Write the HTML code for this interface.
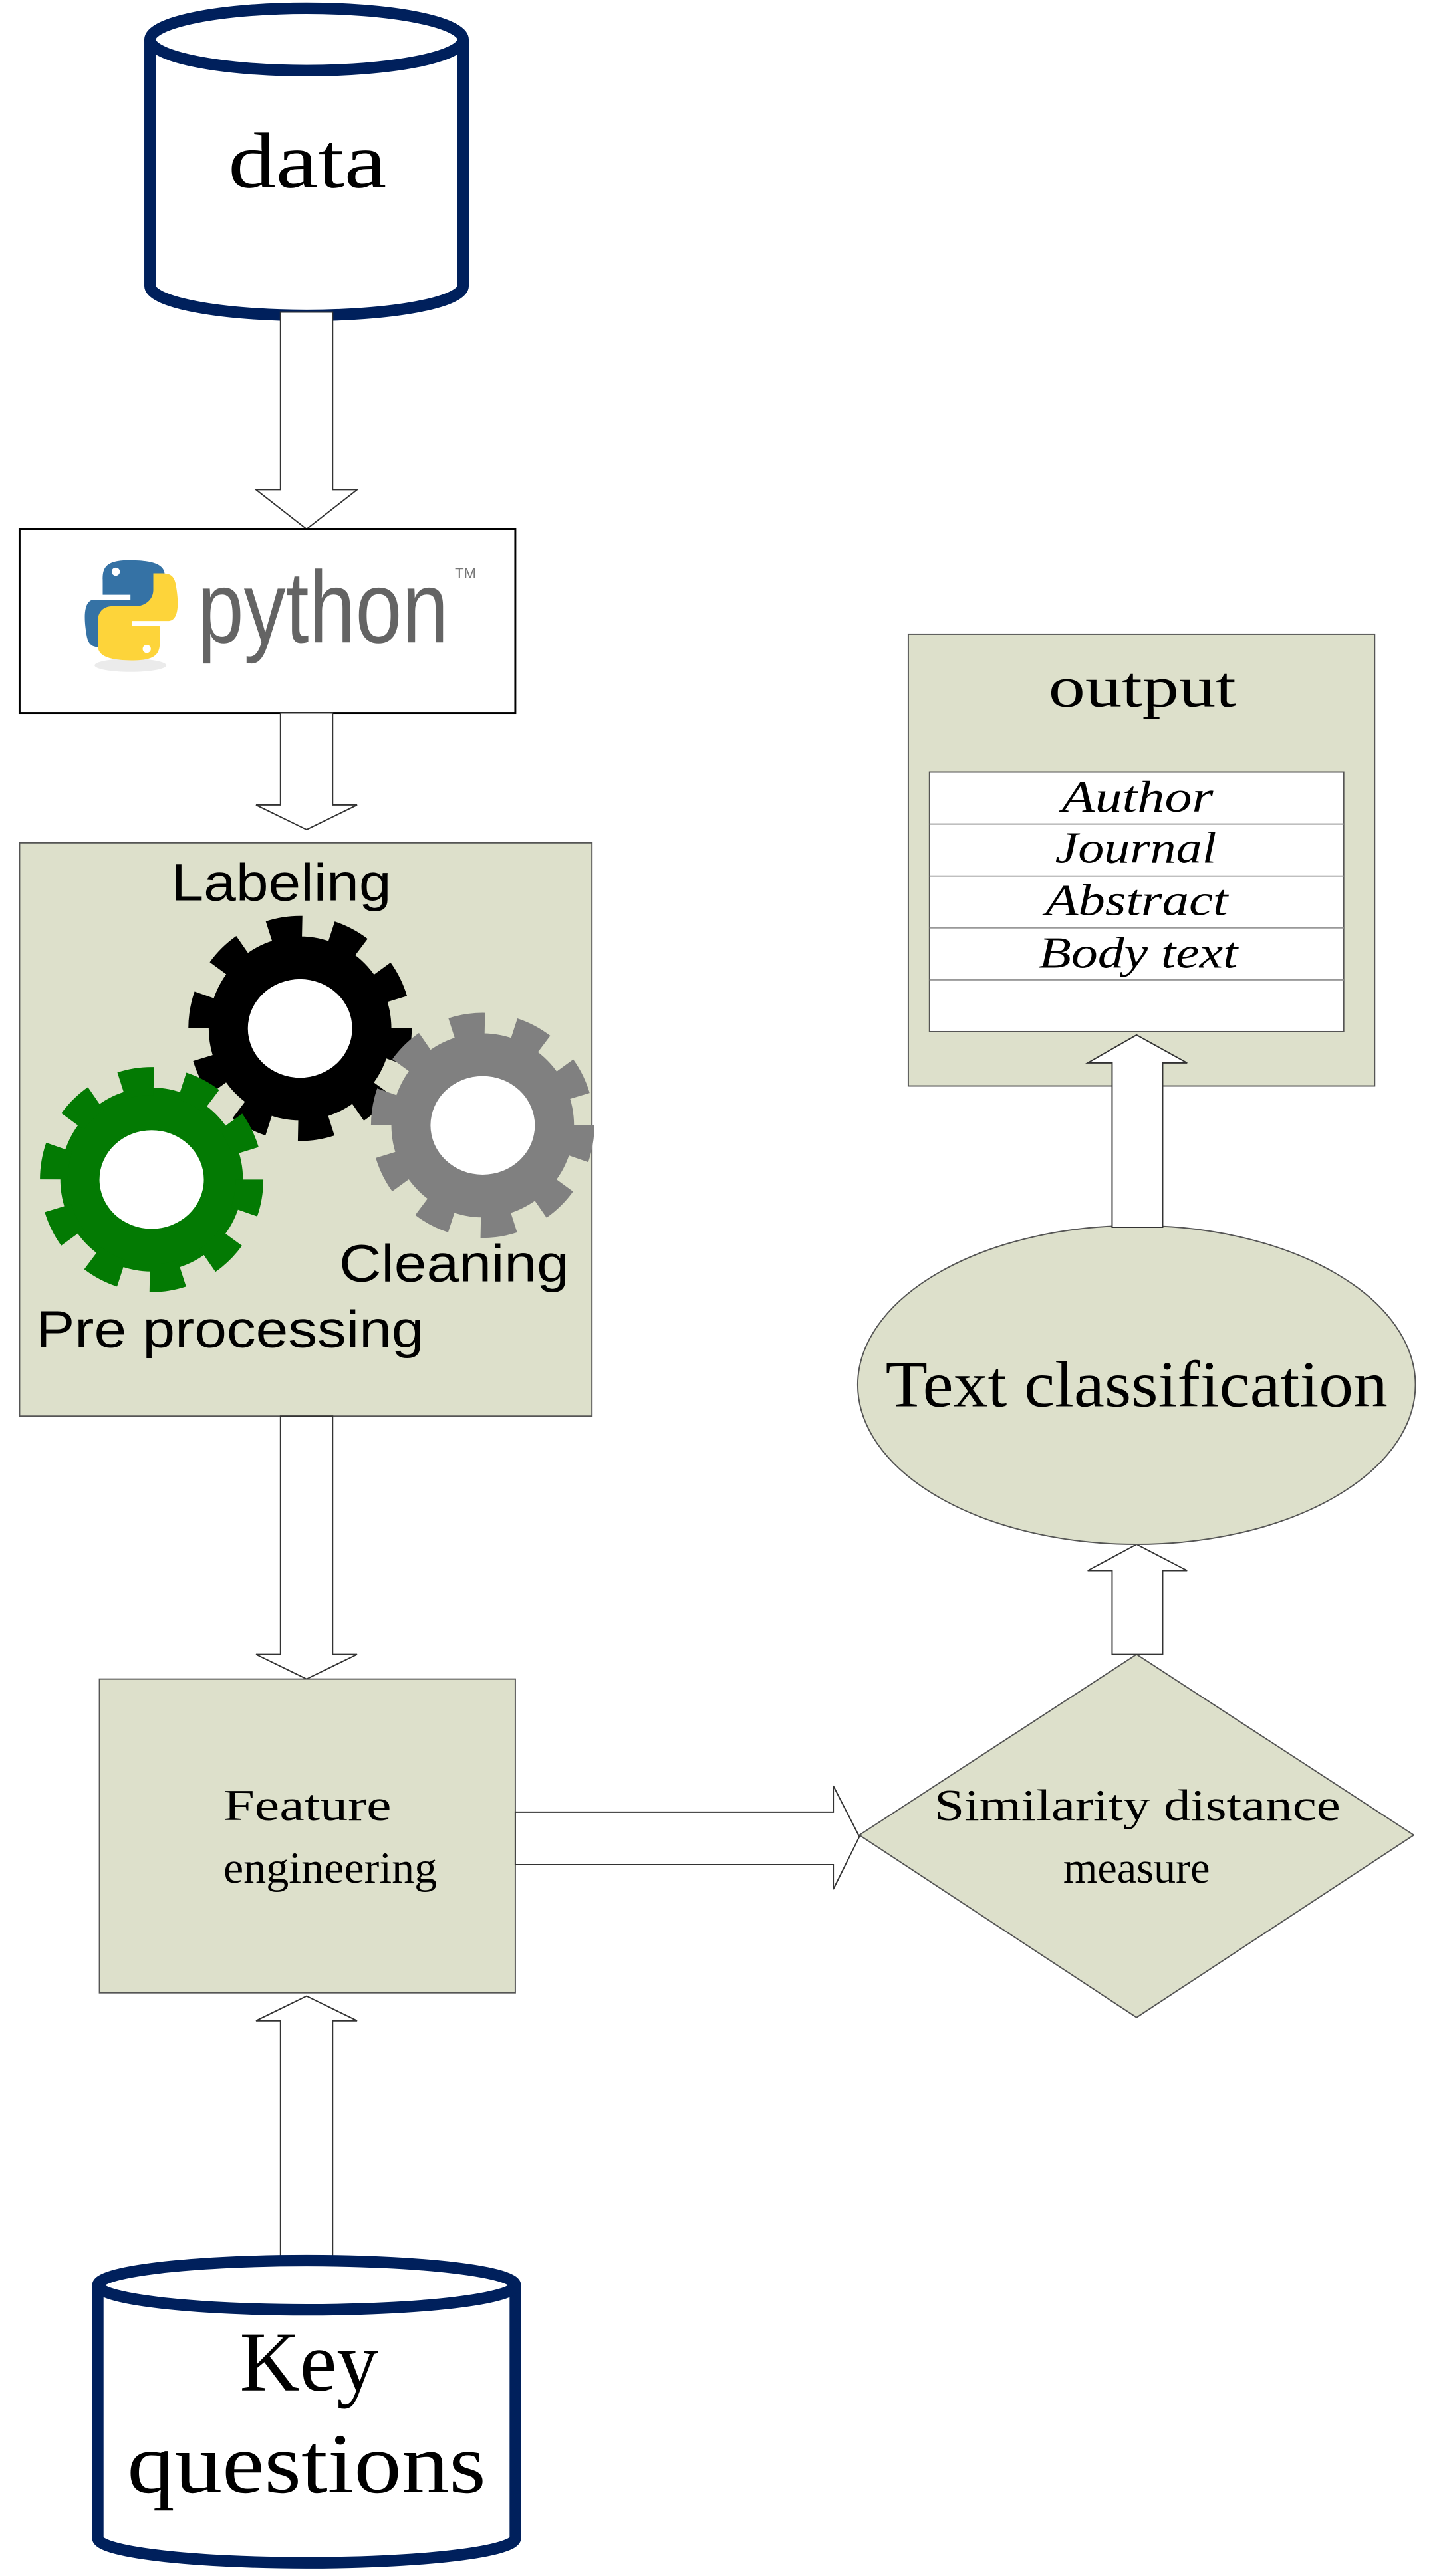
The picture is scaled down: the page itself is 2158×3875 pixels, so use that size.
<!DOCTYPE html>
<html><head><meta charset="utf-8"><style>
html,body{margin:0;padding:0;background:#fff;}
svg{display:block;}
</style></head><body>
<svg width="2158" height="3875" viewBox="0 0 880 1568" preserveAspectRatio="none" xmlns="http://www.w3.org/2000/svg">
<!-- data cylinder -->
<path d="M92,24 L92,174 A96,18 0 0 0 284,174 L284,24" fill="#fff" stroke="#00205c" stroke-width="7"/>
<ellipse cx="188" cy="24" rx="96" ry="19" fill="#fff" stroke="#00205c" stroke-width="7"/>
<text x="140" y="114" font-family="Liberation Serif, serif" font-size="48" textLength="97" lengthAdjust="spacingAndGlyphs">data</text>

<!-- arrow data->python -->
<polygon points="172,190 204,190 204,298 219,298 188,322 157,298 172,298" fill="#fff" stroke="#333" stroke-width="0.8"/>

<!-- python box -->
<rect x="12" y="322" width="304" height="112" fill="#fff" stroke="#000" stroke-width="1.2"/>
<ellipse cx="80" cy="405" rx="22" ry="4" fill="#ddd" opacity="0.6"/>
<path d="M79,341 C62,341 63,348 63,355 L63,362 L80,362 L80,365 L58,365 C50,365 52,380 53,386 C54,393 57,394 62,394 L67,394 L67,384 C67,378 72,374 78,374 L92,374 C97,374 101,371 101,365 L101,350 C101,344 95,341 79,341 Z" fill="#3572a5"/>
<path d="M82,402 C99,402 98,395 98,388 L98,381 L81,381 L81,378 L103,378 C111,378 109,363 108,357 C107,350 104,349 99,349 L94,349 L94,359 C94,365 89,369 83,369 L69,369 C64,369 60,372 60,378 L60,393 C60,399 66,402 82,402 Z" fill="#fdd43a"/>
<circle cx="71" cy="348" r="2.5" fill="#fff"/>
<circle cx="90" cy="395" r="2.5" fill="#fff"/>
<text x="121" y="391" font-family="Liberation Sans, sans-serif" font-size="62" fill="#646464" textLength="154" lengthAdjust="spacingAndGlyphs">python</text>
<text x="279" y="352" font-family="Liberation Sans, sans-serif" font-size="9" fill="#777">TM</text>

<!-- arrow python->gears -->
<polygon points="172,434 204,434 204,490 219,490 188,505 157,490 172,490" fill="#fff" stroke="#333" stroke-width="0.8"/>

<!-- gears box -->
<rect x="12" y="513" width="351" height="349" fill="#dde0cb" stroke="#555" stroke-width="0.8"/>
<text x="105" y="548" font-family="Liberation Sans, sans-serif" font-size="32" textLength="135" lengthAdjust="spacingAndGlyphs">Labeling</text>
<g transform="translate(184,626)">
<circle r="56" fill="#000"/>
<circle r="60" fill="none" stroke="#000" stroke-width="17" stroke-dasharray="20 17.7"/>
<ellipse rx="32" ry="30" fill="#fff"/>
</g>
<g transform="translate(296,685)">
<circle r="56" fill="#808080"/>
<circle r="60" fill="none" stroke="#808080" stroke-width="17" stroke-dasharray="20 17.7"/>
<ellipse rx="32" ry="30" fill="#fff"/>
</g>
<g transform="translate(93,718)">
<circle r="56" fill="#037a03"/>
<circle r="60" fill="none" stroke="#037a03" stroke-width="17" stroke-dasharray="20 17.7"/>
<ellipse rx="32" ry="30" fill="#fff"/>
</g>
<text x="208" y="780" font-family="Liberation Sans, sans-serif" font-size="32" textLength="141" lengthAdjust="spacingAndGlyphs">Cleaning</text>
<text x="22" y="820" font-family="Liberation Sans, sans-serif" font-size="32" textLength="238" lengthAdjust="spacingAndGlyphs">Pre processing</text>

<!-- arrow gears->feature -->
<polygon points="172,862 204,862 204,1007 219,1007 188,1022 157,1007 172,1007" fill="#fff" stroke="#333" stroke-width="0.8"/>

<!-- feature box -->
<rect x="61" y="1022" width="255" height="191" fill="#dde0cb" stroke="#555" stroke-width="0.8"/>
<text x="137" y="1108" font-family="Liberation Serif, serif" font-size="27" textLength="103" lengthAdjust="spacingAndGlyphs">Feature</text>
<text x="137" y="1146" font-family="Liberation Serif, serif" font-size="27" textLength="131" lengthAdjust="spacingAndGlyphs">engineering</text>

<!-- arrow key->feature (up) -->
<polygon points="172,1375 204,1375 204,1230 219,1230 188,1215 157,1230 172,1230" fill="#fff" stroke="#333" stroke-width="0.8"/>

<!-- key questions cylinder -->
<path d="M60,1391 L60,1545 A128,15 0 0 0 316,1545 L316,1391" fill="#fff" stroke="#00205c" stroke-width="7"/>
<ellipse cx="188" cy="1391" rx="128" ry="15" fill="#fff" stroke="#00205c" stroke-width="7"/>
<text x="147" y="1455" font-family="Liberation Serif, serif" font-size="52" textLength="85" lengthAdjust="spacingAndGlyphs">Key</text>
<text x="78" y="1517" font-family="Liberation Serif, serif" font-size="52" textLength="220" lengthAdjust="spacingAndGlyphs">questions</text>

<!-- horizontal arrow feature->diamond -->
<polygon points="316,1103 511,1103 511,1087 527,1118 511,1150 511,1135 316,1135" fill="#fff" stroke="#333" stroke-width="0.8"/>

<!-- diamond -->
<polygon points="697,1007 867,1117 697,1228 527,1117" fill="#dde0cb" stroke="#555" stroke-width="0.8"/>
<text x="573" y="1108" font-family="Liberation Serif, serif" font-size="27" textLength="249" lengthAdjust="spacingAndGlyphs">Similarity distance</text>
<text x="652" y="1146" font-family="Liberation Serif, serif" font-size="27" textLength="90" lengthAdjust="spacingAndGlyphs">measure</text>

<!-- arrow diamond->ellipse -->
<polygon points="682,1007 713,1007 713,956 728,956 697,940 667,956 682,956" fill="#fff" stroke="#333" stroke-width="0.8"/>

<!-- ellipse -->
<ellipse cx="697" cy="843" rx="171" ry="97" fill="#dde0cb" stroke="#555" stroke-width="0.8"/>
<text x="543" y="856" font-family="Liberation Serif, serif" font-size="40" textLength="308" lengthAdjust="spacingAndGlyphs">Text classification</text>

<!-- output box -->
<rect x="557" y="386" width="286" height="275" fill="#dde0cb" stroke="#555" stroke-width="0.8"/>
<text x="643" y="430" font-family="Liberation Serif, serif" font-size="35" textLength="115" lengthAdjust="spacingAndGlyphs">output</text>
<rect x="570" y="470" width="254" height="158" fill="#fff" stroke="#555" stroke-width="0.8"/>
<line x1="570" y1="501.6" x2="824" y2="501.6" stroke="#999" stroke-width="0.8"/>
<line x1="570" y1="533.2" x2="824" y2="533.2" stroke="#999" stroke-width="0.8"/>
<line x1="570" y1="564.8" x2="824" y2="564.8" stroke="#999" stroke-width="0.8"/>
<line x1="570" y1="596.4" x2="824" y2="596.4" stroke="#999" stroke-width="0.8"/>
<g font-family="Liberation Serif, serif" font-size="27" font-style="italic" lengthAdjust="spacingAndGlyphs">
<text x="651" y="494" textLength="93" lengthAdjust="spacingAndGlyphs">Author</text>
<text x="647" y="525" textLength="99" lengthAdjust="spacingAndGlyphs">Journal</text>
<text x="641" y="557" textLength="112" lengthAdjust="spacingAndGlyphs">Abstract</text>
<text x="637" y="589" textLength="122" lengthAdjust="spacingAndGlyphs">Body text</text>
</g>

<!-- arrow ellipse->output (drawn on top) -->
<polygon points="682,747 713,747 713,647 728,647 697,630 667,647 682,647" fill="#fff" stroke="#333" stroke-width="0.8"/>
</svg>
</body></html>
